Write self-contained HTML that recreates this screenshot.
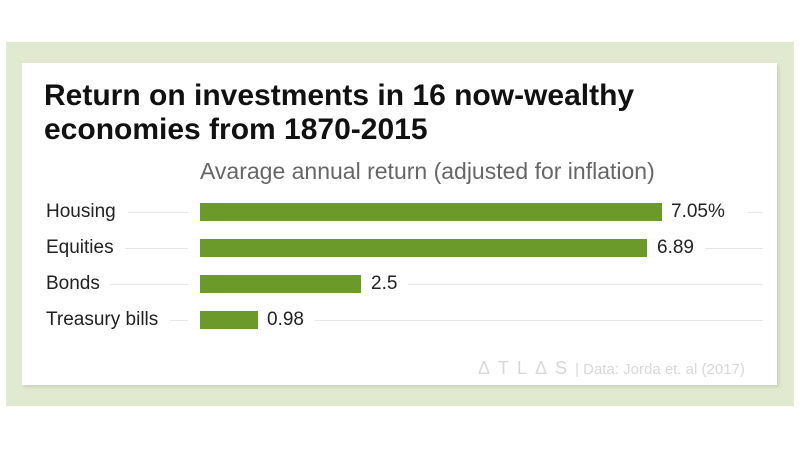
<!DOCTYPE html>
<html><head><style>
body{margin:0;width:800px;height:450px;background:#fff;position:relative;font-family:"Liberation Sans",sans-serif;overflow:hidden}
.outer{position:absolute;left:6px;top:42px;width:788px;height:364px;background:#e1e9d1}
.card{position:absolute;left:22px;top:63px;width:755px;height:322px;background:#fff;box-shadow:2px 2px 3px #c8d2b6}
.t{position:absolute;left:44px;top:79px;font-size:30px;font-weight:bold;line-height:34px;color:#111;white-space:nowrap}
.sub{position:absolute;left:200px;top:158px;font-size:23px;color:#666;white-space:nowrap}
.lab{position:absolute;left:46px;font-size:19px;color:#222;white-space:nowrap}
.bar{position:absolute;left:200px;height:18px;background:#6b9a2a}
.ln{position:absolute;height:1px;background:#e6e6e6}
.val{position:absolute;font-size:19px;color:#222}
.ft{position:absolute;left:478px;top:358px;font-size:15px;color:#d8d8d8;white-space:nowrap}
</style></head><body>
<div class="outer"></div><div class="card"></div>
<div class="t">Return on investments in 16 now-wealthy<br>economies from 1870-2015</div>
<div class="sub">Avarage annual return (adjusted for inflation)</div>

<div class="lab" style="top:201px">Housing</div>
<div class="ln" style="left:128px;width:60px;top:212px"></div>
<div class="bar" style="top:203px;width:462px"></div>
<div class="val" style="left:671px;top:201px">7.05%</div>
<div class="ln" style="left:748px;width:15px;top:212px"></div>

<div class="lab" style="top:237px">Equities</div>
<div class="ln" style="left:125px;width:63px;top:248px"></div>
<div class="bar" style="top:239px;width:447px"></div>
<div class="val" style="left:657px;top:237px">6.89</div>
<div class="ln" style="left:705px;width:58px;top:248px"></div>

<div class="lab" style="top:273px">Bonds</div>
<div class="ln" style="left:110px;width:78px;top:284px"></div>
<div class="bar" style="top:275px;width:161px"></div>
<div class="val" style="left:371px;top:273px">2.5</div>
<div class="ln" style="left:408px;width:355px;top:284px"></div>

<div class="lab" style="top:309px">Treasury bills</div>
<div class="ln" style="left:170px;width:18px;top:320px"></div>
<div class="bar" style="top:311px;width:58px"></div>
<div class="val" style="left:267px;top:309px">0.98</div>
<div class="ln" style="left:315px;width:448px;top:320px"></div>

<div class="ft"><span style="letter-spacing:8px;font-size:18px">ΔTLΔS</span>| Data: Jorda et. al (2017)</div>
</body></html>
